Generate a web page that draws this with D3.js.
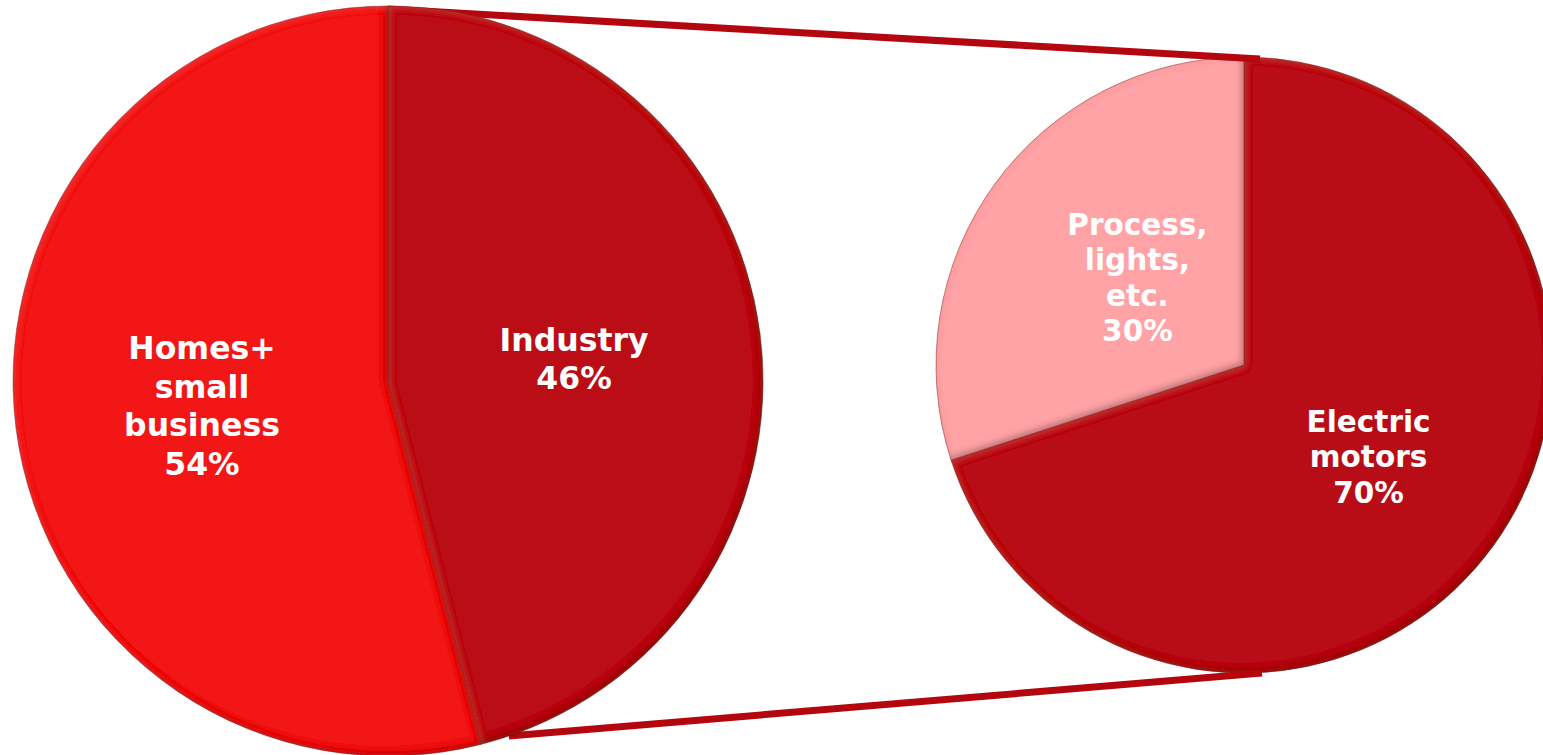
<!DOCTYPE html>
<html>
<head>
<meta charset="utf-8">
<script src="https://cdn.jsdelivr.net/npm/d3@7"></script>
<style>
  html, body { margin: 0; padding: 0; background: #fff; overflow: hidden; }
  svg { display: block; }
</style>
</head>
<body>
<svg id="chart" width="1543" height="755"></svg>
<script>
// ---- data ----
const mainCategories = ["Homes+\nsmall\nbusiness", "Industry"];
const mainValues = [54, 46];
const mainColors = ["#F21218", "#BB0F15"];

const subCategories = ["Electric\nmotors", "Process,\nlights,\netc."];
const subValues = [70, 30];
const subColors = ["#B80E13", "#FFA3A6"];

// ---- layout ----
const W = 1543, H = 755;
const svg = d3.select("#chart");
const defs = svg.append("defs");

const left = { cx: 388, cy: 381, r: 375, font: 31.5, lh: 38.5, shift: {} };
const right = { cx: 1244, cy: 365, r: 308, font: 29.5, lh: 35.5, shift: { 1: [18, 2] } };

// bevel-like filter: inner shadow bottom-right, soft highlight top-left
const f = defs.append("filter").attr("id", "bevel")
  .attr("x", "-5%").attr("y", "-5%").attr("width", "110%").attr("height", "110%");
f.append("feGaussianBlur").attr("in", "SourceAlpha").attr("stdDeviation", 3).attr("result", "blur");
f.append("feOffset").attr("in", "blur").attr("dx", -3).attr("dy", -3).attr("result", "offDark");
f.append("feComposite").attr("in", "SourceAlpha").attr("in2", "offDark").attr("operator", "out").attr("result", "bandDark");
f.append("feFlood").attr("flood-color", "#3a0000").attr("flood-opacity", 0.5).attr("result", "darkCol");
f.append("feComposite").attr("in", "darkCol").attr("in2", "bandDark").attr("operator", "in").attr("result", "shadow");
f.append("feOffset").attr("in", "blur").attr("dx", 2).attr("dy", 2).attr("result", "offLight");
f.append("feComposite").attr("in", "SourceAlpha").attr("in2", "offLight").attr("operator", "out").attr("result", "bandLight");
f.append("feFlood").attr("flood-color", "#ff7070").attr("flood-opacity", 0.2).attr("result", "lightCol");
f.append("feComposite").attr("in", "lightCol").attr("in2", "bandLight").attr("operator", "in").attr("result", "hilite");
const fm = f.append("feMerge");
fm.append("feMergeNode").attr("in", "SourceGraphic");
fm.append("feMergeNode").attr("in", "shadow");
fm.append("feMergeNode").attr("in", "hilite");

const pie = d3.pie().sort(null).value(d => d.v);

function drawPie(g, cfg, cats, vals, cols, startAngle, idxMap) {
  const data = cats.map((c, i) => ({ c, v: vals[i], col: cols[i], k: idxMap ? idxMap[i] : i }));
  const arcs = pie.startAngle(startAngle).endAngle(startAngle + 2 * Math.PI)(data);
  const arc = d3.arc().innerRadius(0).outerRadius(cfg.r);
  const grp = g.append("g").attr("transform", `translate(${cfg.cx},${cfg.cy})`);
  grp.selectAll("path.slice").data(arcs).join("path")
    .attr("class", "slice")
    .attr("d", arc)
    .attr("fill", d => d.data.col)
    .attr("stroke", "rgba(90,0,0,0.4)")
    .attr("stroke-width", 1)
    .attr("filter", "url(#bevel)");
  const lbl = grp.selectAll("text.lbl").data(arcs).join("text")
    .attr("class", "lbl")
    .attr("text-anchor", "middle")
    .attr("fill", "#fff")
    .attr("font-family", "Verdana, 'DejaVu Sans', sans-serif")
    .attr("font-weight", "bold")
    .attr("font-size", cfg.font);
  lbl.each(function (d) {
    let [x, y] = arc.centroid(d);
    const s = cfg.shift[d.data.k];
    if (s) { x += s[0]; y += s[1]; }
    const lines = d.data.c.split("\n").concat([d.data.v + "%"]);
    const t = d3.select(this);
    const y0 = y - (lines.length - 1) * cfg.lh / 2 + 1.5;
    lines.forEach((str, i) => {
      t.append("tspan").attr("x", x).attr("y", y0 + i * cfg.lh)
        .attr("dominant-baseline", "central").text(str);
    });
  });
  return { arcs, arc };
}

// right (secondary) pie first
const gRight = svg.append("g");
drawPie(gRight, right, subCategories, subValues, subColors, 0);

// connector lines
const lineColor = "#B3060F";
const gLines = svg.append("g");
const indEnd = (mainValues[1] / d3.sum(mainValues)) * 2 * Math.PI; // end of Industry slice
const pt = (cfg, a) => [cfg.cx + cfg.r * Math.sin(a), cfg.cy - cfg.r * Math.cos(a)];
const topStart = [left.cx, left.cy - left.r + 3];
const topEnd = [right.cx + 16, right.cy - right.r + 2];
const botStart = pt(left, indEnd - 0.077);
const botEnd = [right.cx + 18, right.cy + right.r];
gLines.selectAll("line").data([[topStart, topEnd], [botStart, botEnd]]).join("line")
  .attr("x1", d => d[0][0]).attr("y1", d => d[0][1])
  .attr("x2", d => d[1][0]).attr("y2", d => d[1][1])
  .attr("stroke", lineColor).attr("stroke-width", 7);

// left (main) pie: Industry starts at 12 o'clock going clockwise
const gLeft = svg.append("g");
drawPie(gLeft, left, [mainCategories[1], mainCategories[0]], [mainValues[1], mainValues[0]],
  [mainColors[1], mainColors[0]], 0, [1, 0]);
</script>
</body>
</html>
